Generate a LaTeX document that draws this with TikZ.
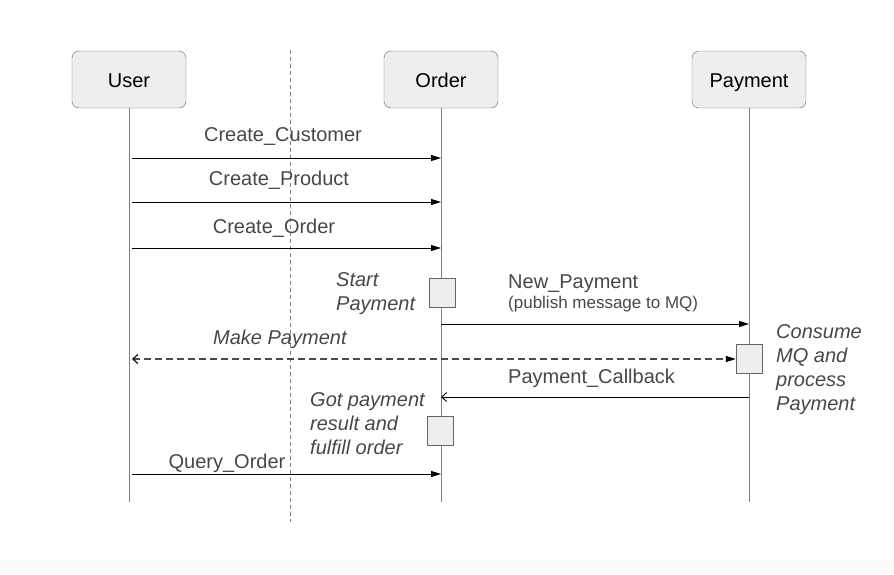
\documentclass[tikz,border=0pt]{standalone}
\usepackage{fontspec}
\setmainfont{Liberation Sans}
\usetikzlibrary{arrows.meta}

\definecolor{boxfill}{HTML}{EEEEEE}
\definecolor{boxline}{HTML}{666666}
\definecolor{lifegray}{HTML}{808080}
\definecolor{labelgray}{HTML}{474747}
\definecolor{dashgray}{HTML}{4A4A4A}
\definecolor{bandgray}{HTML}{F8F9FB}

\tikzset{
  actor/.style={draw=boxline,fill=boxfill,rounded corners=7pt,minimum width=114pt,minimum height=57pt,text height=19pt,text depth=3pt,font=\fontsize{20}{24}\selectfont},
  actbox/.style={draw=boxline,fill=boxfill,minimum width=26pt,minimum height=29pt,inner sep=0pt},
  life/.style={draw=lifegray,line width=1pt},
  msg/.style={draw=black,line width=0.9pt,-{Triangle[length=10pt,width=6pt]}},
  back/.style={draw=black,line width=0.9pt,-{Straight Barb[length=5pt,width=9pt]}},
  lbl/.style={text=labelgray,font=\fontsize{20}{24}\selectfont,inner sep=0pt},
  note/.style={lbl,font=\fontsize{20}{24}\selectfont\itshape,align=left,anchor=west}
}

\begin{document}
\begin{tikzpicture}[x=1pt,y=-1pt]

\useasboundingbox (0,0) rectangle (894,574);
\fill[bandgray] (0,560) rectangle (894,574);

% participants
\node[actor] (user) at (129,79.5) {User};
\node[actor] (order) at (441,79.5) {Order};
\node[actor] (payment) at (749,79.5) {Payment};

% lifelines
\coordinate (userend) at (129,502);
\coordinate (orderend) at (441,502);
\coordinate (paymentend) at (749,502);
\draw[life] (user.south) -- (userend);
\draw[life] (order.south) -- (orderend);
\draw[life] (payment.south) -- (paymentend);

% divider
\coordinate (divtop) at (290,50);
\coordinate (divbot) at (290,522);
\draw[lifegray,dash pattern=on 4pt off 3pt,line width=0.9pt] (divtop) -- (divbot);

% activations
\node[actbox] (startact) at (442,292.5) {};
\node[actbox] (payact) at (749,359) {};
\node[actbox] (gotact) at (440,431) {};

% messages
\draw[msg] ([xshift=3pt]user |- 0,158) -- (order |- 0,158);
\node[lbl] (cc) at (283,136) {Create\_Customer};

\draw[msg] ([xshift=3pt]user |- 0,202) -- (order |- 0,202);
\node[lbl] (cp) at (279,180) {Create\_Product};

\draw[msg] ([xshift=3pt]user |- 0,248) -- (order |- 0,248);
\node[lbl] (co) at (274,228) {Create\_Order};

\node[note] (start) at (336,294) {Start\\Payment};

\draw[msg] (order |- 0,324) -- (payment |- 0,324);
\node[lbl,anchor=west] (np) at (508,284) {New\_Payment};
\node[lbl,anchor=west,font=\fontsize{17}{20}\selectfont] (npsub) at (508,304.5) {(publish message to MQ)};

\draw[msg,draw=dashgray,line width=1.1pt,dash pattern=on 7pt off 4pt,{Straight Barb[length=5pt,width=9pt,color=black]}-{Triangle[length=10pt,width=6pt,color=black]}] ([xshift=3pt]user |- 0,359) -- (payact.west);
\node[note] (mp) at (213,339) {Make Payment};

\node[note] (consume) at (776,370) {Consume\\MQ and\\process\\Payment};

\draw[back] (payment |- 0,397) -- (order |- 0,397);
\node[lbl,anchor=west] (pc) at (508,378) {Payment\_Callback};

\node[note] (got) at (310,423.5) {Got payment\\result and\\fulfill order};

\draw[msg] ([xshift=3pt]user |- 0,474) -- (order |- 0,474);
\node[lbl] (qo) at (227,463) {Query\_Order};

\end{tikzpicture}
\end{document}
